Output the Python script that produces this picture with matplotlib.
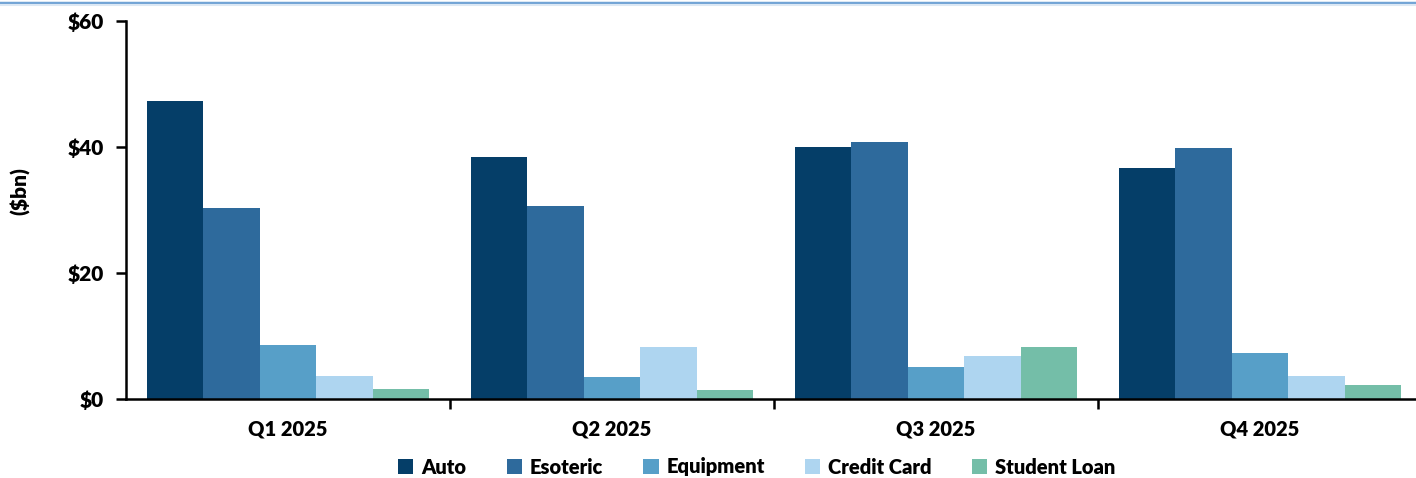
import matplotlib
matplotlib.use("Agg")
import matplotlib.pyplot as plt
from matplotlib.lines import Line2D
from matplotlib.ticker import FuncFormatter, FixedLocator
import numpy as np

categories = ["Q1 2025", "Q2 2025", "Q3 2025", "Q4 2025"]
series_names = ["Auto", "Esoteric", "Equipment", "Credit Card", "Student Loan"]
auto = [47.3, 38.4, 40.0, 36.7]
esoteric = [30.3, 30.6, 40.8, 39.8]
equipment = [8.6, 3.5, 5.1, 7.3]
credit_card = [3.65, 8.25, 6.8, 3.65]
student_loan = [1.6, 1.4, 8.25, 2.2]
yticks = [0, 20, 40, 60]

colors = ["#053E68", "#2E6A9C", "#579FC8", "#AED5F0", "#74BEA8"]
series = [auto, esoteric, equipment, credit_card, student_loan]

plt.rcParams['font.family'] = ['Lato', 'DejaVu Sans']
plt.rcParams['font.weight'] = 'heavy'
WT = 'heavy'
FS = 14.5

W, H = 1416, 478
fig = plt.figure(figsize=(W / 100, H / 100), dpi=100)
left, right, top, bottom = 126, 1422, 21, 399
ax = fig.add_axes([left / W, 1 - bottom / H, (right - left) / W, (bottom - top) / H])

x = np.arange(len(categories))
bw = 0.174
for i, (name, vals, c) in enumerate(zip(series_names, series, colors)):
    ax.bar(x + (i - 2) * bw, vals, width=bw, color=c, label=name, zorder=2)

ax.set_xlim(-0.5, len(categories) - 0.5)
ax.set_ylim(0, 60)
ax.set_yticks(yticks)
ax.yaxis.set_major_formatter(FuncFormatter(lambda v, p: f"${v:.0f}"))
ax.set_xticks(x)
ax.set_xticklabels(categories)
ax.tick_params(axis='x', which='major', length=0, pad=15, labelsize=FS)
ax.xaxis.set_minor_locator(FixedLocator(np.arange(0.5, len(categories) - 0.5, 1.0)))
ax.tick_params(axis='x', which='minor', length=7, width=1.8, direction='out')
ax.tick_params(axis='y', length=7, width=1.8, direction='out', labelsize=15, pad=9)
for lab in ax.get_xticklabels() + ax.get_yticklabels():
    lab.set_fontweight(WT)
for s in ['top', 'right']:
    ax.spines[s].set_visible(False)
for s in ['left', 'bottom']:
    ax.spines[s].set_linewidth(1.8)
    ax.spines[s].set_color('black')
ax.set_ylabel("($bn)", fontsize=15, fontweight=WT)
ax.yaxis.set_label_coords(-96 / (right - left), (399 - 191) / 378)

leg = fig.legend(loc='center', bbox_to_anchor=(757 / W, 1 - 467 / H), ncol=5, frameon=False,
                 fontsize=FS, handlelength=0.75, handleheight=0.75, handletextpad=0.4,
                 columnspacing=2.0, borderaxespad=0)
for t in leg.get_texts():
    t.set_fontweight(WT)

fig.add_artist(Line2D([0, 1], [1 - 2.5 / H, 1 - 2.5 / H], transform=fig.transFigure,
                      color="#72A4D5", linewidth=2.5))
fig.add_artist(Line2D([0, 1], [1 - 5 / H, 1 - 5 / H], transform=fig.transFigure,
                      color="#DCE8F4", linewidth=1.5))

fig.savefig("out.png", dpi=100)
